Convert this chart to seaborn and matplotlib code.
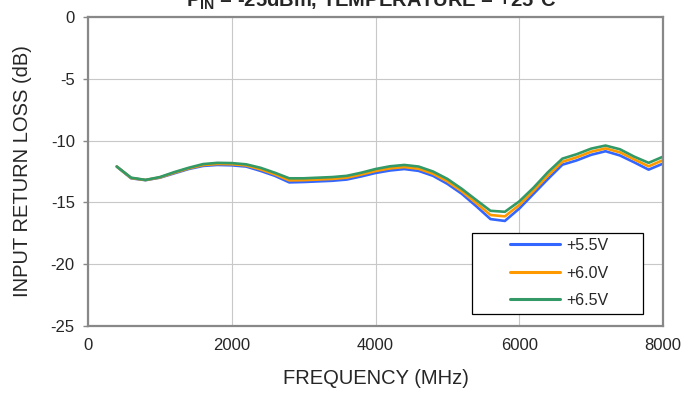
import numpy as np
import pandas as pd
import matplotlib
matplotlib.use("Agg")
import matplotlib.pyplot as plt
from matplotlib.patches import Rectangle
import seaborn as sns

freq = list(range(400, 8001, 200))
v55 = [-12.1, -13.05, -13.2, -13.0, -12.65, -12.3, -12.05, -11.97, -12.0, -12.1,
       -12.45, -12.85, -13.38, -13.35, -13.3, -13.25, -13.15, -12.9, -12.62, -12.42,
       -12.3, -12.45, -12.85, -13.5, -14.3, -15.3, -16.35, -16.5, -15.5, -14.3,
       -13.1, -11.95, -11.6, -11.15, -10.86, -11.2, -11.76, -12.35, -11.86]
v60 = [-12.1, -13.03, -13.19, -12.98, -12.6, -12.25, -11.98, -11.89, -11.91, -12.01,
       -12.33, -12.73, -13.22, -13.2, -13.15, -13.1, -13.0, -12.75, -12.46, -12.25,
       -12.14, -12.28, -12.68, -13.3, -14.1, -15.05, -16.02, -16.13, -15.21, -14.05,
       -12.83, -11.71, -11.35, -10.9, -10.63, -10.95, -11.53, -12.08, -11.58]
v65 = [-12.1, -13.0, -13.18, -12.95, -12.55, -12.2, -11.9, -11.8, -11.82, -11.92,
       -12.2, -12.6, -13.05, -13.05, -13.0, -12.95, -12.85, -12.6, -12.3, -12.08,
       -11.97, -12.1, -12.5, -13.1, -13.9, -14.8, -15.68, -15.76, -14.92, -13.8,
       -12.55, -11.46, -11.1, -10.65, -10.4, -10.7, -11.3, -11.8, -11.3]
series_names = ["+5.5V", "+6.0V", "+6.5V"]
colors = ["#3366FF", "#FF9900", "#339966"]
x_ticks = [0, 2000, 4000, 6000, 8000]
y_ticks = [0, -5, -10, -15, -20, -25]

sns.set_style("white")
plt.rcParams["font.family"] = ["Liberation Sans", "DejaVu Sans"]
plt.rcParams["mathtext.fontset"] = "custom"
plt.rcParams["mathtext.rm"] = "Liberation Sans"
plt.rcParams["mathtext.bf"] = "Liberation Sans:bold"

df = pd.concat([
    pd.DataFrame({"freq": freq, "rl": vals, "V": name})
    for name, vals in zip(series_names, [v55, v60, v65])
])

fig = plt.figure(figsize=(6.91, 3.97), dpi=100)
ax = fig.add_axes([88/691, 1-326/397, (663-88)/691, (326-17)/397])

sns.lineplot(data=df, x="freq", y="rl", hue="V", palette=colors,
             hue_order=series_names, linewidth=1.9, ax=ax, legend=False)

ax.set_xlim(0, 8000)
ax.set_ylim(-25, 0)
ax.set_xticks(x_ticks)
ax.set_yticks(y_ticks)
ax.set_xticklabels([str(t) for t in x_ticks])
ax.set_yticklabels([str(t) for t in y_ticks])
ax.grid(True, color="#C8C8C8", linewidth=0.8)
ax.set_axisbelow(True)
for s in ax.spines.values():
    s.set_color("#888888")
    s.set_linewidth(1.6)
    s.set_visible(True)
ax.tick_params(axis="y", length=3.5, width=1, color="#888888", pad=6, labelsize=12, direction="out", left=True)
ax.tick_params(axis="x", length=0, pad=9, labelsize=12)

ax.set_xlabel("FREQUENCY (MHz)", fontsize=14.5)
ax.set_ylabel("INPUT RETURN LOSS (dB)", fontsize=14.5)
ax.xaxis.set_label_coords(0.5, (326-378)/309)
ax.xaxis.label.set_verticalalignment("center")
ax.yaxis.set_label_coords((23-88)/575, 0.5)
ax.yaxis.label.set_verticalalignment("center")

fig.text(371/691, 1-7/397, r"P$_{\mathbf{IN}}$ = -25dBm, TEMPERATURE = +25°C",
         fontsize=14.5, fontweight="bold", ha="center", va="baseline")

# legend box
ax.add_patch(Rectangle(((472-88)/575, (326-314)/309), (643-472)/575, (314-233)/309,
                       transform=ax.transAxes, facecolor="white", edgecolor="black",
                       linewidth=0.9, zorder=5))
handles = [plt.Line2D([], [], color=c, linewidth=2.2) for c in colors]
leg = ax.legend(handles, series_names, loc="center left",
                bbox_to_anchor=((510-88)/575, (326-273)/309),
                frameon=False, fontsize=11.5, handlelength=3.1, handletextpad=0.4,
                labelspacing=0.78, borderpad=0, borderaxespad=0)
leg.set_zorder(6)

fig.savefig("out.png", dpi=100)
